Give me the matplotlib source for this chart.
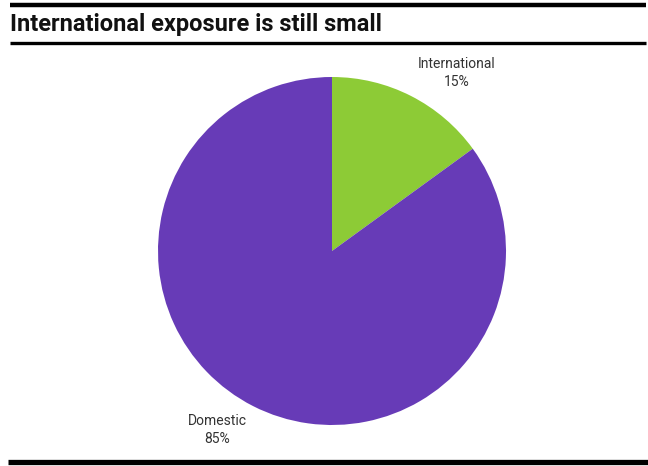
import matplotlib
matplotlib.use("Agg")
import matplotlib.pyplot as plt

# data
labels = ["International", "Domestic"]
shares = [15, 85]
colors = ["#8dcb36", "#673bb7"]

W, H = 648, 466
fig = plt.figure(figsize=(W / 100, H / 100), dpi=100)
ax = fig.add_axes([0, 0, 1, 1])

# pie (pixel coordinates, y up)
cx, cy, r = 332, H - 251, 174
wedges, texts = ax.pie(shares, colors=colors, startangle=90, counterclock=False,
                       center=(cx, cy), radius=r, frame=True,
                       labels=[f"{l}\n{s}%" for l, s in zip(labels, shares)],
                       labeldistance=1.25,
                       textprops=dict(fontsize=10, color="#333333", family="Roboto",
                                      ha="center", va="center", linespacing=1.3))
ax.set_xlim(0, W)
ax.set_ylim(0, H)
ax.axis("off")

# label positions nudged to where the original puts them
texts[0].set_position((457, H - 73))
texts[1].set_position((217, H - 430))

# title and rules
ax.plot([10, 646], [H - 4.5, H - 4.5], color="black", lw=3.2, solid_capstyle="butt")
ax.text(10, H - 25, "International exposure is still small", fontsize=17,
        fontweight="bold", family="Roboto", va="center", ha="left", color="#111111")
ax.plot([10, 646], [H - 42.5, H - 42.5], color="black", lw=2.4, solid_capstyle="butt")
ax.plot([8, 648], [H - 461.5, H - 461.5], color="black", lw=3.8, solid_capstyle="butt")

fig.savefig("out.png", dpi=100)
